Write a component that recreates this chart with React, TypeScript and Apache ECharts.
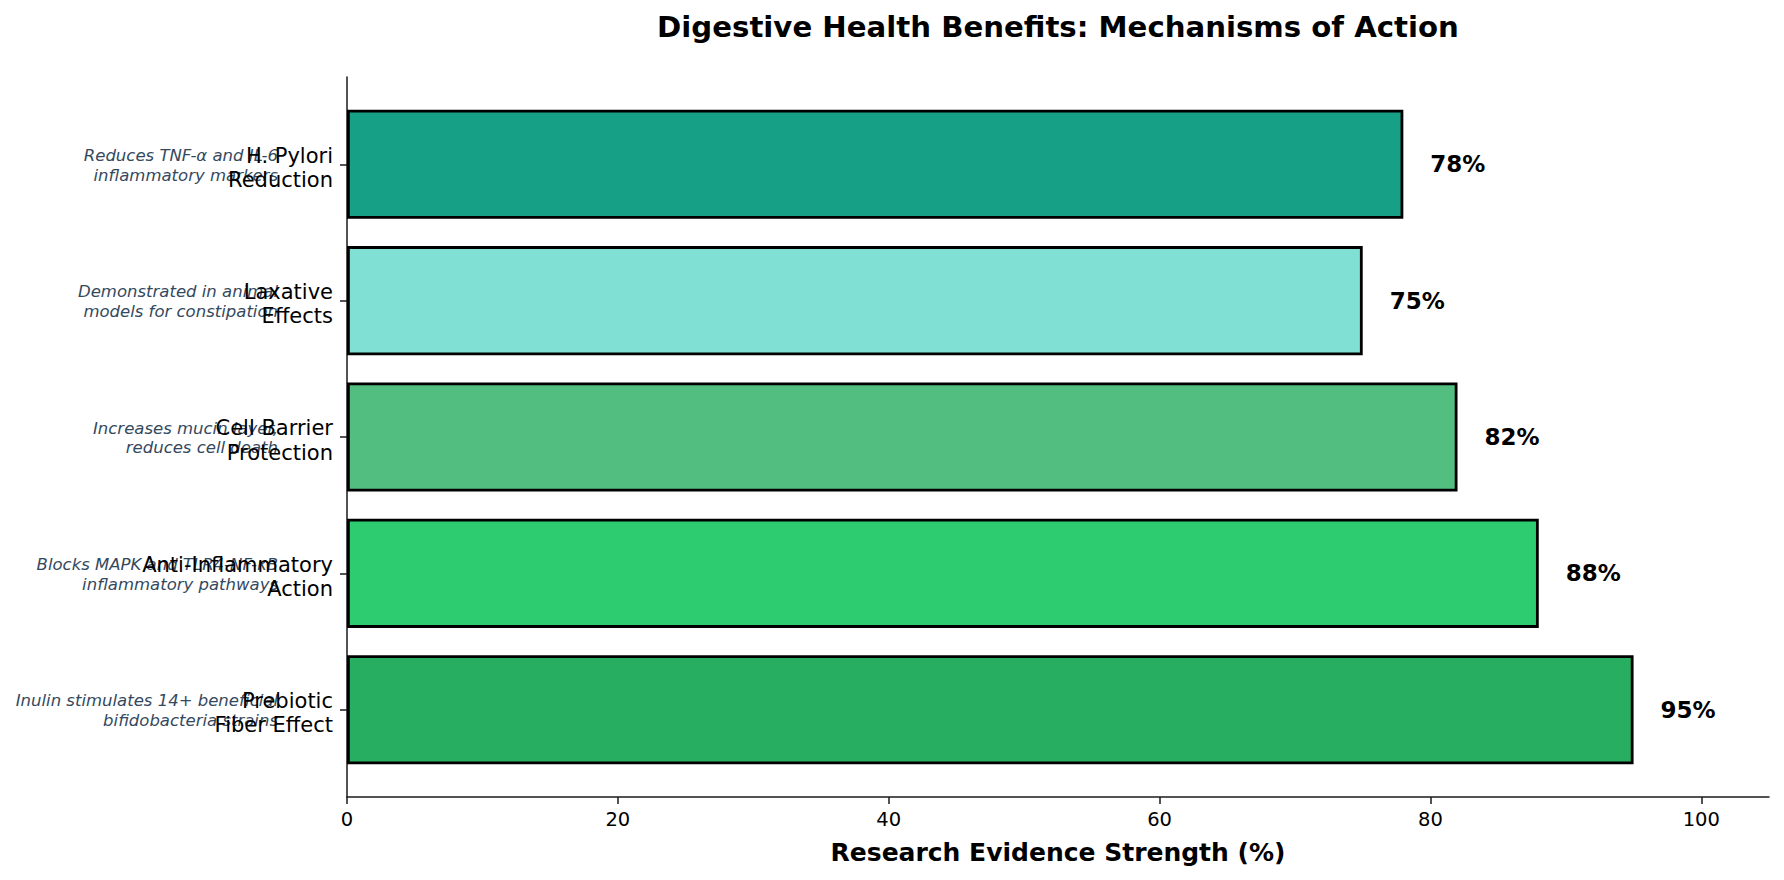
import React, { useEffect, useRef } from "react";
import * as echarts from "echarts";

// Mechanisms listed bottom to top (ECharts category axes grow upward)
const mechanisms = [
  "Prebiotic\nFiber Effect",
  "Anti-Inflammatory\nAction",
  "Cell Barrier\nProtection",
  "Laxative\nEffects",
  "H. Pylori\nReduction",
];
const evidence = [95, 88, 82, 75, 78];
const descriptions = [
  "Inulin stimulates 14+ beneficial\nbifidobacteria strains",
  "Blocks MAPK and TLR4-NF-κB\ninflammatory pathways",
  "Increases mucin layer,\nreduces cell death",
  "Demonstrated in animal\nmodels for constipation",
  "Reduces TNF-α and IL-6\ninflammatory markers",
];
const barColors = ["#27ae60", "#2ecc71", "#52be80", "#7fe0d3", "#16a085"];
const xTicks = [0, 20, 40, 60, 80, 100];

const FONT = "DejaVu Sans";
const W = 1784;
const H = 880;

// plot frame (spines) and the inner band area for the categories
const plotLeft = 347;
const plotRight = 1769;
const plotTop = 77;
const plotBottom = 797;
const yPad = 0.14; // category band margin in category units
const unitPx = (plotBottom - plotTop) / (mechanisms.length - 1 + 0.8 + 2 * 0.24);

// multi-line label with a thin spacer row on top, nudging the text block slightly down
const withSpacer = (text: string) =>
  ["{s| }", ...text.split("\n").map((line) => `{t|${line}}`)].join("\n");

export default function App() {
  const ref = useRef<HTMLDivElement>(null);

  useEffect(() => {
    if (!ref.current) return;
    const chart = echarts.init(ref.current, null, { renderer: "svg", width: W, height: H });
    const innerTop = plotTop + yPad * unitPx;
    const innerBottom = plotBottom - yPad * unitPx;

    chart.setOption({
      animation: false,
      backgroundColor: "#ffffff",
      textStyle: { fontFamily: FONT },
      graphic: [
        {
          type: "text",
          x: (plotLeft + plotRight) / 2,
          y: 27,
          style: {
            text: "Digestive Health Benefits: Mechanisms of Action",
            align: "center",
            verticalAlign: "middle",
            fontFamily: FONT,
            fontSize: 29.2,
            fontWeight: "bold",
            fill: "#000",
          },
        },
      ],
      grid: [
        { left: plotLeft, right: W - plotRight, top: plotTop, bottom: H - plotBottom, containLabel: false },
        { left: plotLeft, right: W - plotRight, top: innerTop, bottom: H - innerBottom, containLabel: false },
      ],
      xAxis: [
        {
          type: "value",
          gridIndex: 0,
          min: 0,
          max: 105,
          interval: 20,
          axisLine: { show: true, lineStyle: { color: "#1a1a1a", width: 1.5 } },
          axisTick: { show: true, length: 7, customValues: xTicks, lineStyle: { color: "#1a1a1a", width: 1.5 } },
          axisLabel: {
            show: true,
            customValues: xTicks,
            margin: 12,
            fontSize: 19.5,
            color: "#000",
            fontFamily: FONT,
          },
          splitLine: { show: false },
          name: "Research Evidence Strength (%)",
          nameLocation: "middle",
          nameGap: 43,
          nameTextStyle: { fontSize: 25, fontWeight: "bold", color: "#000", fontFamily: FONT },
        },
        {
          type: "value",
          gridIndex: 1,
          min: 0,
          max: 105,
          show: false,
        },
      ],
      yAxis: [
        {
          type: "value",
          gridIndex: 0,
          min: 0,
          max: 1,
          axisLine: { show: true, lineStyle: { color: "#1a1a1a", width: 1.5 } },
          axisTick: { show: false },
          axisLabel: { show: false },
          splitLine: { show: false },
        },
        {
          type: "category",
          gridIndex: 1,
          position: "left",
          data: descriptions,
          z: 1,
          axisLine: { show: false },
          axisTick: { show: false },
          axisLabel: {
            margin: 69,
            align: "right",
            formatter: (v: string) => withSpacer(v),
            rich: {
              s: { fontSize: 1, lineHeight: 2 },
              t: {
                fontSize: 16.5,
                lineHeight: 19.5,
                fontStyle: "italic",
                color: "#34495e",
                fontFamily: FONT,
                align: "right",
              },
            },
          },
        },
        {
          type: "category",
          gridIndex: 1,
          position: "left",
          data: mechanisms,
          z: 3,
          axisLine: { show: false },
          axisTick: {
            show: true,
            alignWithLabel: true,
            length: 7,
            lineStyle: { color: "#1a1a1a", width: 1.5 },
          },
          axisLabel: {
            margin: 14,
            align: "right",
            formatter: (v: string) => withSpacer(v),
            rich: {
              s: { fontSize: 1, lineHeight: 7 },
              t: {
                fontSize: 21,
                lineHeight: 24.5,
                color: "#000",
                fontFamily: FONT,
                align: "right",
              },
            },
          },
        },
      ],
      series: [
        {
          type: "bar",
          xAxisIndex: 1,
          yAxisIndex: 2,
          barWidth: "80%",
          data: evidence.map((v, i) => ({
            value: v,
            itemStyle: { color: barColors[i], borderColor: "#000", borderWidth: 2.8 },
          })),
          label: {
            show: true,
            position: "right",
            distance: 27,
            formatter: (p: any) => `${p.value}%`,
            fontSize: 23,
            fontWeight: "bold",
            color: "#000",
            fontFamily: FONT,
          },
        },
      ],
    });

    return () => chart.dispose();
  }, []);

  return (
    <div
      ref={ref}
      style={{ position: "fixed", left: 0, top: 0, width: W, height: H, background: "#fff" }}
    />
  );
}
